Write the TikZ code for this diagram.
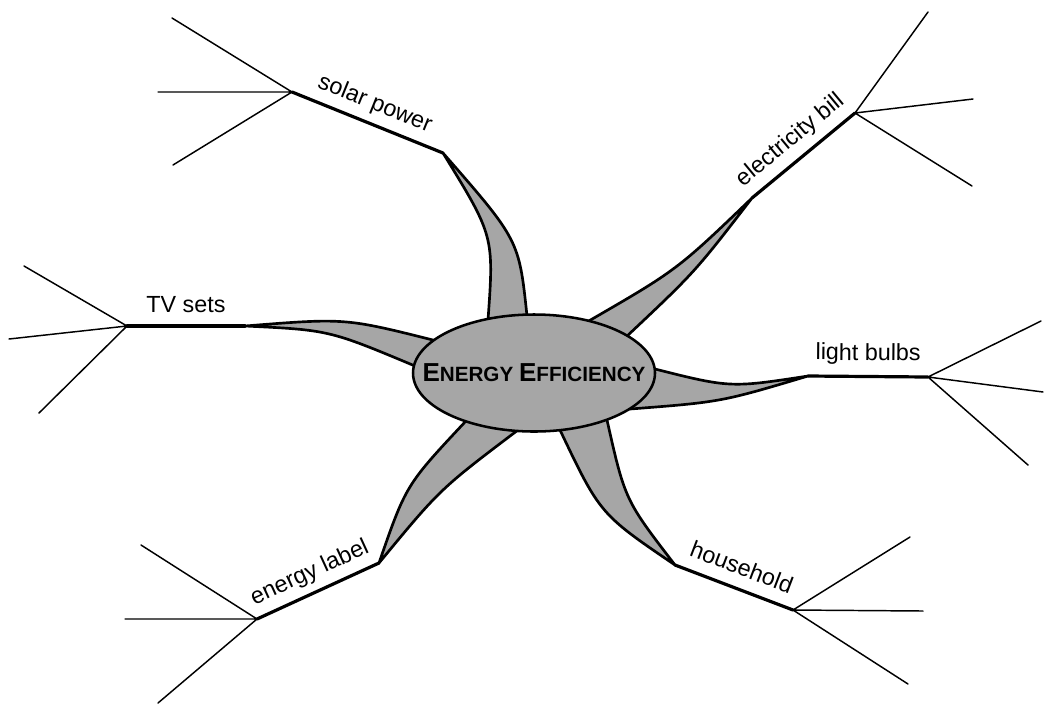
\documentclass[tikz,border=0pt]{standalone}
\usepackage{fontspec}
\setmainfont{Liberation Sans}
\usetikzlibrary{positioning, calc, backgrounds}
\newcommand{\twigs}[1]{\draw[twig] (#1-1) -- (#1) -- (#1-3) (#1) -- (#1-2);}
\newcommand{\capletter}[1]{{\fontsize{19.5}{20}\selectfont #1}}

\begin{document}
\begin{tikzpicture}[x=0.75pt, y=-0.75pt,
    twig/.style={line width=1.1pt, line cap=round},
    stem/.style={line width=2.4pt, line cap=round},
    petal/.style={draw, fill=black!35, line width=2pt, line join=round},
    branchlabel/.style={midway, sloped, above=9pt, inner sep=0pt, text depth=0pt, font=\fontsize{17.5}{20}\selectfont}]
    \useasboundingbox (0,0) rectangle (1044,704);

    %Hub
    \node[inner sep=0pt, font=\bfseries\fontsize{15.5}{20}\selectfont] (hub) at (534,373)
        {\capletter{E}NERGY \capletter{E}FFICIENCY};

    %Tips
    \coordinate (solar tip) at (443,153);
    \coordinate (bill tip) at (752,198);
    \coordinate (bulbs tip) at (808,376);
    \coordinate (tv tip) at (245,326);
    \coordinate (label tip) at (379,563);
    \coordinate (house tip) at (675,565);

    %Forks and twig ends
    \coordinate (solar) at (292,92);
    \coordinate (solar-1) at (172,18);
    \coordinate (solar-2) at (158,92);
    \coordinate (solar-3) at (173,165);
    \coordinate (bill) at (855,113);
    \coordinate (bill-1) at (928,12);
    \coordinate (bill-2) at (973,99);
    \coordinate (bill-3) at (972,186);
    \coordinate (bulbs) at (928,377);
    \coordinate (bulbs-1) at (1041,321);
    \coordinate (bulbs-2) at (1043,392);
    \coordinate (bulbs-3) at (1028,465);
    \coordinate (tv) at (127,326);
    \coordinate (tv-1) at (24,266);
    \coordinate (tv-2) at (9,339);
    \coordinate (tv-3) at (39,413);
    \coordinate (label) at (257,619);
    \coordinate (label-1) at (141,545);
    \coordinate (label-2) at (125,619);
    \coordinate (label-3) at (158,703);
    \coordinate (house) at (793,610);
    \coordinate (house-1) at (910,537);
    \coordinate (house-2) at (923,611);
    \coordinate (house-3) at (908,684);

    %Petals and hub outline (behind the title)
    \begin{scope}[on background layer]
        \draw[petal] (488,320) .. controls (494,236) .. (solar tip) .. controls (519,240) .. (527,316) -- (hub.center) -- cycle;
        \draw[petal] (587,322) .. controls (677,270) .. (bill tip) .. controls (695,272) .. (626,337) -- (hub.center) -- cycle;
        \draw[petal] (651,368) .. controls (730,388) .. (bulbs tip) .. controls (721,402) .. (630,409) -- (hub.center) -- cycle;
        \draw[petal] (433,340) .. controls (345,318) .. (tv tip) .. controls (329,330) .. (415,366) -- (hub.center) -- cycle;
        \draw[petal] (465,422) .. controls (406,485) .. (label tip) .. controls (440,489) .. (518,430) -- (hub.center) -- cycle;
        \draw[petal] (560,430) .. controls (600,514) .. (house tip) .. controls (625,500) .. (607,420) -- (hub.center) -- cycle;
        \draw[fill=black!35, line width=1.9pt] (hub.center) ellipse [x radius=121, y radius=58.5];
    \end{scope}

    %Stems
    \draw[stem] (solar) -- node[branchlabel]{solar power} (solar tip);
    \draw[stem] (bill tip) -- node[branchlabel]{electricity bill} (bill);
    \draw[stem] (bulbs tip) -- node[branchlabel, above=11pt]{light bulbs} (bulbs);
    \draw[stem] (tv) -- node[branchlabel]{TV sets} (tv tip);
    \draw[stem] (label) -- node[branchlabel]{energy label} (label tip);
    \draw[stem] (house tip) -- node[branchlabel]{household} (house);

    %Twigs
    \twigs{solar}
    \twigs{bill}
    \twigs{bulbs}
    \twigs{tv}
    \twigs{label}
    \twigs{house}
\end{tikzpicture}
\end{document}
